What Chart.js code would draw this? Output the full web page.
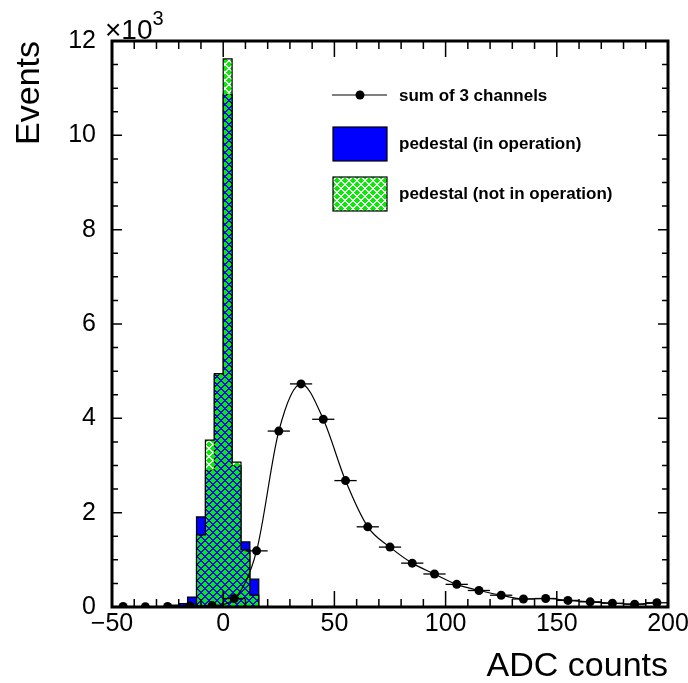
<!DOCTYPE html>
<html>
<head>
<meta charset="utf-8">
<script src="https://cdn.jsdelivr.net/npm/chart.js@4.4.1/dist/chart.umd.min.js"></script>
<style>
html, body { margin: 0; padding: 0; background: #fff; }
</style>
</head>
<body>
<canvas id="chart" width="688" height="683"></canvas>
<script>
// histogram bins (left edges, last value is the right edge of the last bin)
var binEdges = [-24, -20, -16, -12, -8, -4, 0, 4, 8, 12, 16];
var pedestalOn = [40, 70, 210, 1910, 2900, 4920, 10870, 2990, 1380, 590];
var pedestalOff = [0, 10, 60, 1530, 3540, 4950, 11620, 3070, 1210, 250];

// sum of 3 channels, bin centres and contents
var sumX = [-45, -35, -25, -15, -5, 5, 15, 25, 35, 45, 55, 65, 75, 85, 95, 105, 115, 125, 135, 145, 155, 165, 175, 185, 195];
var sumY = [10, 5, 10, 20, 30, 180, 1190, 3730, 4730, 3980, 2680, 1700, 1270, 930, 700, 480, 350, 250, 170, 180, 140, 110, 80, 60, 90];
var sumXErr = 5;

var xTicks = [-50, 0, 50, 100, 150, 200];
var yTicks = [0, 2000, 4000, 6000, 8000, 10000, 12000];

var FONT = "'Liberation Sans', Arial, Helvetica, sans-serif";

function makePattern() {
	var c = document.createElement('canvas');
	c.width = 8; c.height = 8;
	var g = c.getContext('2d');
	var img = g.createImageData(8, 8);
	for (var y = 0; y < 8; y++) {
		for (var x = 0; x < 8; x++) {
			var hole = ((x - y + 16) % 8 < 2) || ((x + y) % 8 < 2);
			var i = (y * 8 + x) * 4;
			if (!hole) {
				img.data[i] = 0; img.data[i + 1] = 240; img.data[i + 2] = 0; img.data[i + 3] = 255;
			}
		}
	}
	g.putImageData(img, 0, 0);
	return g.createPattern(c, 'repeat');
}
var greenPattern = makePattern();

// outline points of a step histogram
function histPoints(values) {
	var pts = [{x: binEdges[0], y: 0}];
	for (var i = 0; i < values.length; i++) {
		pts.push({x: binEdges[i], y: values[i]});
	}
	pts.push({x: binEdges[binEdges.length - 1], y: 0});
	return pts;
}

var sumData = sumX.map(function(x, i) { return {x: x, y: sumY[i]}; });

var errorBars = {
	id: 'errorBars',
	afterDatasetDraw: function(chart, args) {
		if (args.index !== 0) return;
		var ctx = chart.ctx, xs = chart.scales.x, ys = chart.scales.y;
		ctx.save();
		ctx.strokeStyle = '#000';
		ctx.lineWidth = 1.3;
		sumX.forEach(function(x, i) {
			var py = ys.getPixelForValue(sumY[i]);
			ctx.beginPath();
			ctx.moveTo(xs.getPixelForValue(x - sumXErr), py);
			ctx.lineTo(xs.getPixelForValue(x + sumXErr), py);
			ctx.stroke();
		});
		ctx.restore();
	}
};

var frame = {
	id: 'frame',
	afterDatasetsDraw: function(chart) {
		var ctx = chart.ctx, a = chart.chartArea, xs = chart.scales.x, ys = chart.scales.y;
		ctx.save();
		ctx.strokeStyle = '#000';
		ctx.lineWidth = 1.5;
		ctx.beginPath();
		for (var v = -50; v <= 200; v += 10) {
			var px = xs.getPixelForValue(v);
			var len = (v % 50 === 0) ? 16 : 8;
			ctx.moveTo(px, a.bottom); ctx.lineTo(px, a.bottom - len);
			ctx.moveTo(px, a.top); ctx.lineTo(px, a.top + len);
		}
		for (var w = 0; w <= 12000; w += 500) {
			var py = ys.getPixelForValue(w);
			var l = (w % 2000 === 0) ? 10 : 6;
			ctx.moveTo(a.left, py); ctx.lineTo(a.left + l, py);
			ctx.moveTo(a.right, py); ctx.lineTo(a.right - l, py);
		}
		ctx.stroke();
		ctx.lineWidth = 3;
		ctx.strokeRect(a.left, a.top, a.right - a.left, a.bottom - a.top);
		ctx.restore();
	}
};

var rootLegend = {
	id: 'rootLegend',
	afterDraw: function(chart) {
		var ctx = chart.ctx;
		ctx.save();
		ctx.font = 'bold 17px ' + FONT;
		ctx.fillStyle = '#000';
		ctx.textBaseline = 'middle';
		ctx.textAlign = 'left';

		ctx.strokeStyle = '#000';
		ctx.lineWidth = 1.2;
		ctx.beginPath();
		ctx.moveTo(332, 95); ctx.lineTo(387, 95);
		ctx.stroke();
		ctx.beginPath();
		ctx.arc(360, 95, 4.5, 0, Math.PI * 2);
		ctx.fill();
		ctx.fillText('sum of 3 channels', 399, 96);

		ctx.fillStyle = '#0000ff';
		ctx.fillRect(333, 127, 54, 34);
		ctx.strokeRect(333, 127, 54, 34);
		ctx.fillStyle = '#000';
		ctx.fillText('pedestal (in operation)', 399, 144);

		ctx.fillStyle = '#fff';
		ctx.fillRect(333, 177, 54, 34);
		ctx.fillStyle = greenPattern;
		ctx.fillRect(333, 177, 54, 34);
		ctx.strokeRect(333, 177, 54, 34);
		ctx.fillStyle = '#000';
		ctx.fillText('pedestal (not in operation)', 399, 194);

		// axis exponent
		ctx.textBaseline = 'alphabetic';
		ctx.font = '28px ' + FONT;
		ctx.fillText('\u00d710', 105, 39);
		var w = ctx.measureText('\u00d710').width;
		ctx.font = '20px ' + FONT;
		ctx.fillText('3', 105 + w, 25);
		ctx.restore();
	}
};

var chart = new Chart(document.getElementById('chart'), {
	type: 'line',
	data: {
		datasets: [
			{
				label: 'sum of 3 channels',
				data: sumData,
				borderColor: '#000',
				backgroundColor: '#000',
				borderWidth: 1.2,
				pointRadius: 4.5,
				pointBackgroundColor: '#000',
				pointBorderWidth: 0,
				cubicInterpolationMode: 'monotone',
				fill: false,
				order: 0
			},
			{
				label: 'pedestal (not in operation)',
				data: histPoints(pedestalOff),
				stepped: 'before',
				borderColor: '#000',
				borderWidth: 1.2,
				backgroundColor: greenPattern,
				fill: 'origin',
				pointRadius: 0,
				order: 1
			},
			{
				label: 'pedestal (in operation)',
				data: histPoints(pedestalOn),
				stepped: 'before',
				borderColor: '#000',
				borderWidth: 1.2,
				backgroundColor: '#0000ff',
				fill: 'origin',
				pointRadius: 0,
				order: 2
			}
		]
	},
	options: {
		responsive: false,
		animation: false,
		devicePixelRatio: 1,
		layout: { padding: { top: 41, right: 20, left: 0, bottom: 0 } },
		plugins: {
			legend: { display: false },
			tooltip: { enabled: false }
		},
		scales: {
			x: {
				type: 'linear',
				min: -50,
				max: 200,
				afterFit: function(s) { s.height = 76; s.paddingLeft = 0; s.paddingRight = 0; },
				afterBuildTicks: function(s) { s.ticks = xTicks.map(function(v) { return {value: v}; }); },
				grid: { display: false, drawTicks: false },
				border: { display: false },
				ticks: {
					color: '#000',
					padding: 2,
					maxRotation: 0,
					font: { size: 25, family: FONT },
					callback: function(v) { return v < 0 ? '\u2212' + (-v) : String(v); }
				},
				title: {
					display: true,
					text: 'ADC counts',
					align: 'end',
					color: '#000',
					font: { size: 34, family: FONT },
					padding: { top: 0, bottom: -4 }
				}
			},
			y: {
				min: 0,
				max: 12000,
				afterFit: function(s) { s.width = 112; s.paddingTop = 0; s.paddingBottom = 0; },
				afterBuildTicks: function(s) { s.ticks = yTicks.map(function(v) { return {value: v}; }); },
				grid: { display: false, drawTicks: false },
				border: { display: false },
				ticks: {
					color: '#000',
					padding: 16,
					font: { size: 25, family: FONT },
					callback: function(v) { return String(v / 1000); }
				},
				title: {
					display: true,
					text: 'Events',
					align: 'end',
					color: '#000',
					font: { size: 34, family: FONT },
					padding: { top: 9, bottom: 0 }
				}
			}
		}
	},
	plugins: [errorBars, frame, rootLegend]
});
</script>
</body>
</html>
